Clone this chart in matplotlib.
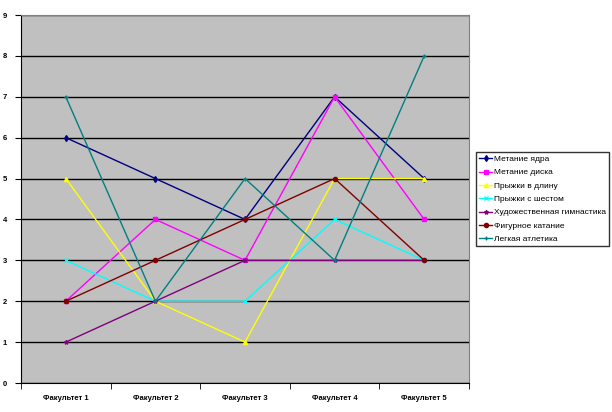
import matplotlib
matplotlib.use("Agg")
import matplotlib.pyplot as plt
import numpy as np

categories = ["Факультет 1", "Факультет 2", "Факультет 3", "Факультет 4", "Факультет 5"]
series_names = ["Метание ядра", "Метание диска", "Прыжки в длину", "Прыжки с шестом",
                "Художественная гимнастика", "Фигурное катание", "Легкая атлетика"]
yadro = [6, 5, 4, 7, 5]
disk = [2, 4, 3, 7, 4]
dlina = [5, 2, 1, 5, 5]
shest = [3, 2, 2, 4, 3]
gimn = [1, 2, 3, 3, 3]
katanie = [2, 3, 4, 5, 3]
atletika = [7, 2, 5, 3, 8]
series = [yadro, disk, dlina, shest, gimn, katanie, atletika]

colors = ["#000080", "#FF00FF", "#FFFF00", "#00FFFF", "#800080", "#800000", "#008080"]
markers = ["d", "s", "^", "x", "*", "o", "+"]

fig = plt.figure(figsize=(6.12, 4.12), dpi=100)
ax = fig.add_axes([21/612, 1-383/412, (469-21)/612, (383-15)/412])
ax.set_facecolor("#C0C0C0")

x = np.arange(len(categories))
for name, vals, c, m in zip(series_names, series, colors, markers):
    ax.plot(x, vals, color=c, lw=1, marker=m, ms=3, mec=c, mfc=c, label=name)

ax.set_xlim(-0.5, 4.5)
ax.set_ylim(0, 9)
ax.set_yticks(range(0, 10))
ax.set_yticklabels([str(i) for i in range(10)], fontsize=5.5, fontweight="bold", family="Liberation Sans")
ax.yaxis.grid(True, color="black", lw=1)
ax.set_axisbelow(True)
ax.set_xticks(x)
ax.set_xticklabels(categories, fontsize=5.5, fontweight="bold", family="Liberation Sans")
ax.set_xticks(np.arange(-0.5, 5, 1), minor=True)
ax.tick_params(axis="x", which="major", length=0, pad=9)
ax.tick_params(axis="x", which="minor", length=4, direction="out", color="black")
ax.tick_params(axis="y", length=4, direction="out", pad=6)
for s in ["top", "right"]:
    ax.spines[s].set_color("#808080")
for s in ["left", "bottom"]:
    ax.spines[s].set_color("black")

leg = fig.legend(loc="upper left", bbox_to_anchor=(476/612, 1-152/412),
                 frameon=True, fancybox=False, edgecolor="black", handlelength=1.5,
                 labelspacing=0.66, borderpad=0.4, handletextpad=0.2, borderaxespad=0,
                 prop={"family": "Liberation Sans", "size": 6})
leg.get_frame().set_linewidth(1)

fig.savefig("out.png", dpi=100)
